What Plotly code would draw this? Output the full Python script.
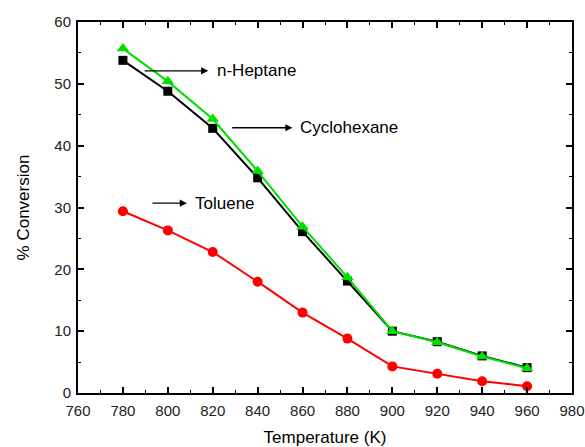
import plotly.graph_objects as go

temperature = [780, 800, 820, 840, 860, 880, 900, 920, 940, 960]
cyclohexane = [53.8, 48.8, 42.8, 34.8, 26.1, 18.1, 10.0, 8.3, 6.0, 4.1]
n_heptane = [55.7, 50.4, 44.3, 35.9, 26.9, 18.7, 10.0, 8.2, 5.9, 4.0]
toluene = [29.4, 26.3, 22.8, 18.0, 13.0, 8.8, 4.3, 3.1, 1.9, 1.1]

# label text, arrow tail (x, y), arrow head x, label x
labels = [
    ("n-Heptane", 789, 52.1, 818, 821),
    ("Cyclohexane", 828, 42.9, 855.5, 858),
    ("Toluene", 792.5, 30.7, 808.5, 811),
]

FONT = "Liberation Sans, Arial"

fig = go.Figure()
fig.add_trace(go.Scatter(x=temperature, y=cyclohexane, mode="lines+markers",
                         line=dict(color="black", width=2),
                         marker=dict(symbol="square", size=9, color="black")))
fig.add_trace(go.Scatter(x=temperature, y=n_heptane, mode="lines+markers",
                         line=dict(color="#00e000", width=2),
                         marker=dict(symbol="triangle-up", size=11, color="#00e000")))
fig.add_trace(go.Scatter(x=temperature, y=toluene, mode="lines+markers",
                         line=dict(color="#ff0000", width=2),
                         marker=dict(symbol="circle", size=10, color="#ff0000")))

for text, x0, y0, x1, xt in labels:
    fig.add_annotation(x=x1, y=y0, ax=x0, ay=y0, xref="x", yref="y",
                       axref="x", ayref="y", text="", showarrow=True,
                       arrowhead=2, arrowsize=1.1, arrowwidth=1.3, arrowcolor="black")
    fig.add_annotation(x=xt, y=y0, xref="x", yref="y", text=text, showarrow=False,
                       xanchor="left", yanchor="middle",
                       font=dict(size=17, color="black", family=FONT))

axis_common = dict(showgrid=False, zeroline=False, showline=True, linecolor="black",
                   linewidth=2, mirror="ticks", ticks="inside", ticklen=6,
                   tickwidth=1.5, tickcolor="black", automargin=False,
                   tickfont=dict(size=15, color="#222", family=FONT))

fig.update_xaxes(range=[760, 980], dtick=20, tick0=760, ticklabelstandoff=3,
                 minor=dict(ticks="inside", dtick=10, ticklen=3, tickcolor="black", tickwidth=1.2),
                 title=dict(text="Temperature (K)", standoff=14,
                            font=dict(size=17, color="black", family=FONT)),
                 **axis_common)
fig.update_yaxes(range=[0, 60], dtick=10, ticklabelstandoff=2,
                 minor=dict(ticks="inside", dtick=5, ticklen=3, tickcolor="black", tickwidth=1.2),
                 title=dict(text="% Conversion", standoff=20,
                            font=dict(size=17, color="black", family=FONT)),
                 **axis_common)

fig.update_layout(width=585, height=447, showlegend=False,
                  plot_bgcolor="white", paper_bgcolor="white",
                  margin=dict(l=78, r=13, t=22, b=54))

fig.write_html("out.html")
